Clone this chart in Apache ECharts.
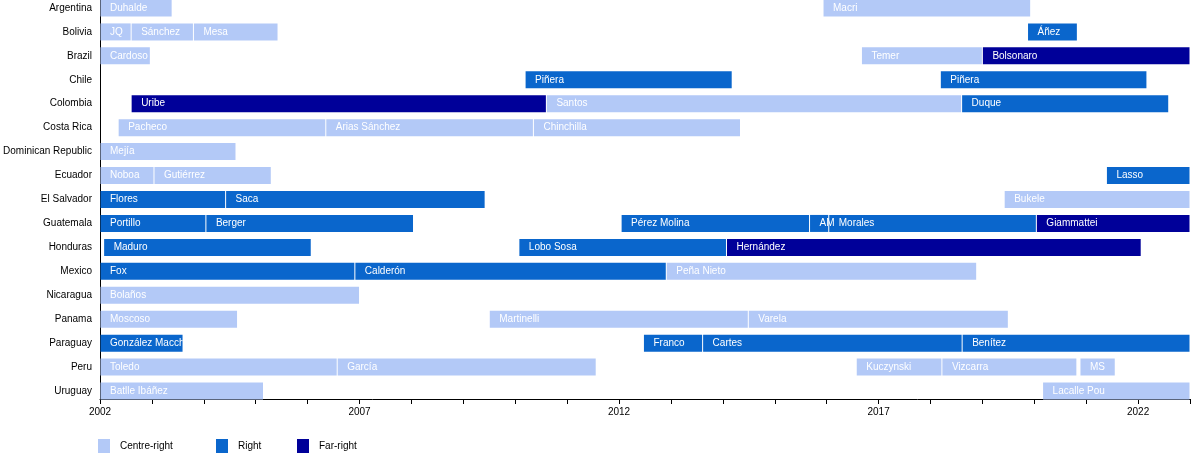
<!DOCTYPE html>
<html><head><meta charset="utf-8">
<script src="https://cdn.jsdelivr.net/npm/echarts@6/dist/echarts.min.js"></script>
<style>html,body{margin:0;padding:0;background:#fff}#c{width:1200px;height:458px}</style>
</head><body><div id="c"></div>
<script>
const countries = ['Argentina','Bolivia','Brazil','Chile','Colombia','Costa Rica','Dominican Republic','Ecuador','El Salvador','Guatemala','Honduras','Mexico','Nicaragua','Panama','Paraguay','Peru','Uruguay'];
const leaningNames = ['Centre-right','Right','Far-right'];
const leaningColors = ['#B3C9F7','#0A66CC','#000099'];
const yearMin = 2002, yearMax = 2023;
const yearLabels = [2002, 2007, 2012, 2017, 2022];

const leaders = [
  'Duhalde','Macri',
  'JQ','Sánchez','Mesa','Áñez',
  'Cardoso','Temer','Bolsonaro',
  'Piñera','Piñera',
  'Uribe','Santos','Duque',
  'Pacheco','Arias Sánchez','Chinchilla',
  'Mejía',
  'Noboa','Gutiérrez','Lasso',
  'Flores','Saca','Bukele',
  'Portillo','Berger','Pérez Molina','AM','Morales','Giammattei',
  'Maduro','Lobo Sosa','Hernández',
  'Fox','Calderón','Peña Nieto',
  'Bolaños',
  'Moscoso','Martinelli','Varela',
  'González Macchi','Franco','Cartes','Benítez',
  'Toledo','García','Kuczynski','Vizcarra','MS',
  'Batlle Ibáñez','Lacalle Pou'
];
const leaderCountry = [
  0,0,
  1,1,1,1,
  2,2,2,
  3,3,
  4,4,4,
  5,5,5,
  6,
  7,7,7,
  8,8,8,
  9,9,9,9,9,9,
  10,10,10,
  11,11,11,
  12,
  13,13,13,
  14,14,14,14,
  15,15,15,15,15,
  16,16
];
const termStart = [
  2002.0,2015.93,
  2002.0,2002.6,2003.8,2019.87,
  2002.0,2016.67,2019.0,
  2010.19,2018.19,
  2002.6,2010.6,2018.6,
  2002.35,2006.35,2010.35,
  2002.0,
  2002.0,2003.04,2021.39,
  2002.0,2004.42,2019.42,
  2002.0,2004.04,2012.04,2015.67,2016.04,2020.04,
  2002.07,2010.07,2014.07,
  2002.0,2006.91,2012.91,
  2002.0,
  2002.0,2009.5,2014.49,
  2002.0,2012.47,2013.61,2018.61,
  2002.0,2006.57,2016.57,2018.22,2020.88,
  2002.0,2020.16
];
const termEnd = [
  2003.39,2019.93,
  2002.6,2003.8,2005.43,2020.83,
  2002.97,2019.0,2023.0,
  2014.18,2022.17,
  2010.6,2018.6,2022.59,
  2006.35,2010.35,2014.34,
  2004.62,
  2003.04,2005.3,2023.0,
  2004.42,2009.42,2023.0,
  2004.04,2008.04,2015.67,2016.04,2020.04,2023.0,
  2006.07,2014.07,2022.06,
  2006.91,2012.91,2018.89,
  2007.0,
  2004.65,2014.49,2019.5,
  2003.6,2013.61,2018.61,2023.0,
  2006.57,2011.56,2018.22,2020.82,2021.56,
  2005.15,2023.0
];
const leaderLeaning = [
  0,0,
  0,0,0,1,
  0,0,2,
  1,1,
  2,0,1,
  0,0,0,
  0,
  0,0,1,
  1,1,0,
  1,1,1,1,1,2,
  1,1,2,
  1,1,0,
  0,
  0,0,0,
  1,1,1,1,
  0,0,0,0,0,
  0,0
];

const BAR_H = 17;
const FONT = '10px "Liberation Sans", Arial, Helvetica, sans-serif';

function makeRender(color) {
  return function (params, api) {
    const s = api.coord([api.value(0), api.value(2)]);
    const e = api.coord([api.value(1), api.value(2)]);
    const x0 = s[0] + 0.5, x1 = e[0] - 0.5;
    const w = Math.max(x1 - x0, 0.5);
    const y0 = s[1] - BAR_H / 2;
    const name = leaders[api.value(3)];
    const text = {
      type: 'text', z2: 10,
      style: {
        text: name, x: x0 + 9.5, y: s[1], fill: '#ffffff', font: FONT,
        textAlign: 'left', textVerticalAlign: 'middle', align: 'left', verticalAlign: 'middle'
      }
    };
    if (w > 30) text.clipPath = { type: 'rect', shape: { x: x0, y: y0, width: w, height: BAR_H } };
    return {
      type: 'group',
      children: [
        { type: 'rect', z2: 0, shape: { x: x0, y: y0, width: w, height: BAR_H }, style: { fill: color } },
        text
      ]
    };
  };
}

const series = leaningNames.map((ln, k) => {
  const data = [];
  for (let i = 0; i < leaders.length; i++) {
    if (leaderLeaning[i] === k) data.push([termStart[i], termEnd[i], leaderCountry[i], i]);
  }
  return {
    type: 'custom', name: ln, renderItem: makeRender(leaningColors[k]),
    itemStyle: { color: leaningColors[k] },
    encode: { x: [0, 1], y: 2 },
    data: data, clip: false, silent: true
  };
});

const legendLefts = [98, 216, 297];
const chart = echarts.init(document.getElementById('c'), null, { renderer: 'canvas' });
chart.setOption({
  animation: false,
  backgroundColor: '#ffffff',
  grid: { left: 100, right: 10, top: -4, height: 407, outerBoundsMode: 'none', containLabel: false },
  xAxis: {
    type: 'value', min: yearMin, max: yearMax, interval: 1, offset: -4,
    axisLine: { show: true, lineStyle: { color: '#000', width: 1 } },
    axisTick: { show: true, length: 5, lineStyle: { color: '#000' } },
    axisLabel: {
      color: '#000', fontSize: 10, margin: 8, fontFamily: '"Liberation Sans", Arial, sans-serif',
      formatter: v => (yearLabels.indexOf(v) >= 0 ? String(v) : '')
    },
    splitLine: { show: false }
  },
  yAxis: {
    type: 'category', data: countries, inverse: true,
    axisLine: { show: true, lineStyle: { color: '#000', width: 1 } },
    axisTick: { show: false },
    axisLabel: { color: '#000', fontSize: 10, margin: 8, fontFamily: '"Liberation Sans", Arial, sans-serif' },
    splitLine: { show: false }
  },
  legend: leaningNames.map((ln, k) => ({
    data: [ln], left: legendLefts[k], top: 439, padding: 0,
    icon: 'rect', itemWidth: 12, itemHeight: 14, selectedMode: false,
    textStyle: { color: '#000', fontSize: 10, fontFamily: '"Liberation Sans", Arial, sans-serif', padding: [0, 0, 0, 5] }
  })),
  series: series
});
</script>
</body></html>
